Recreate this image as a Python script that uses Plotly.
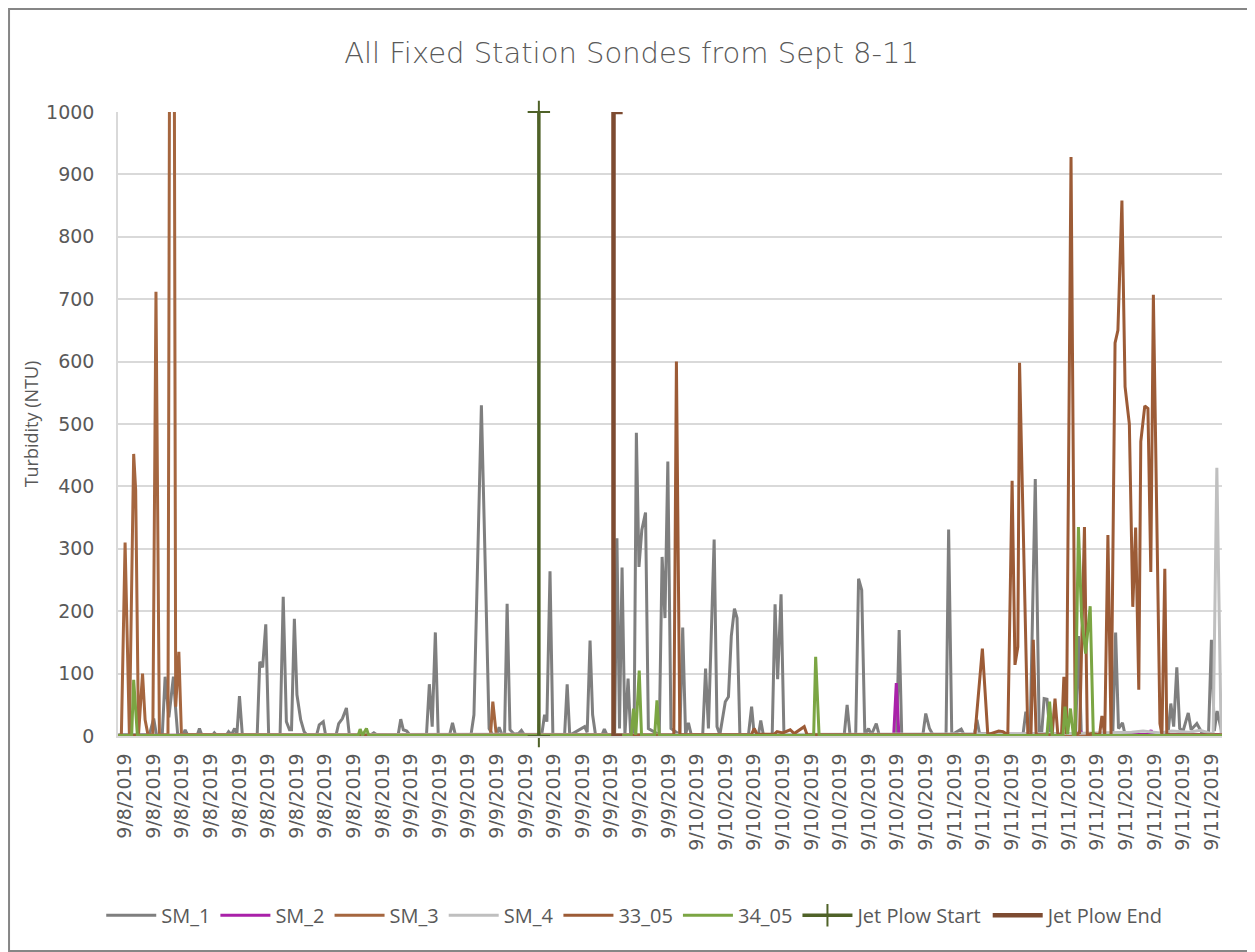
import plotly.graph_objects as go

# x = sample index along the logging period; category labels every 10 samples
tick_pos = list(range(0, 381, 10))
tick_labels = (["9/8/2019"] * 10 + ["9/9/2019"] * 10 +
               ["9/10/2019"] * 9 + ["9/11/2019"] * 10)

# (sample index, turbidity NTU)
sm1 = [(-2.4, 2), (8.5, 2), (10, 28), (11, 1), (13, 2), (14, 95), (15.3, 30), (16.9, 95),
       (17.6, 48), (18.4, 2), (20.3, 2), (21, 10), (21.8, 2), (25.3, 2), (26, 12), (26.8, 2),
       (30.5, 1), (31.2, 5), (32, 1), (35.5, 2), (36.2, 7), (37.2, 2), (38.3, 12), (39.1, 3),
       (40, 64), (41, 2), (46.2, 2), (47.1, 119), (48.1, 110), (49.2, 179), (50.2, 2),
       (54.2, 2), (55.3, 223), (56.4, 23), (57.5, 10), (58.2, 10), (59.2, 188), (60.1, 66),
       (61.4, 26), (62.6, 7), (63.5, 2), (67, 2), (67.9, 18), (69.3, 23), (70.1, 2),
       (73.8, 2), (74.7, 20), (76, 28), (77.4, 45), (78.4, 2), (86, 2), (87, 5), (88, 2),
       (95.5, 2), (96.4, 27), (97.3, 10), (98.5, 8), (99.5, 2), (105.4, 2), (106.4, 83),
       (107.4, 15), (108.5, 166), (109.5, 2), (113.5, 2), (114.5, 21), (115.5, 2),
       (121, 3), (122, 34), (124.6, 530), (127.3, 12), (128.5, 2), (130, 2), (130.8, 14),
       (131.8, 2), (132.7, 2), (133.6, 212), (134.6, 10), (136, 3), (137.6, 4), (138.6, 9),
       (139.6, 2), (145.7, 2), (146.7, 34), (147.5, 23), (148.6, 264), (149.6, 2),
       (153.7, 2), (154.6, 83), (155.5, 1), (158, 8), (159.5, 12), (160.7, 15), (161.6, 6),
       (162.6, 153), (163.5, 34), (164.5, 2), (166.8, 2), (167.6, 11), (168.5, 2),
       (171.2, 2), (172, 317), (172.9, 12), (173.8, 270), (174.8, 2), (175.9, 92),
       (176.8, 2), (178, 2), (178.8, 486), (179.7, 271), (180.7, 330), (182, 358),
       (183, 12), (186.8, 2), (187.8, 287), (188.8, 189), (189.8, 440), (190.9, 12),
       (194, 2), (195, 174), (196, 2), (197, 21), (198, 2), (202, 2), (203, 108), (204, 12),
       (206, 315), (207, 15), (208, 2), (209.9, 55), (211, 63), (212, 160), (213.1, 204),
       (214, 189), (215, 2), (218, 2), (219.1, 47), (220, 2), (221.5, 2), (222.3, 25),
       (223.2, 2), (226.3, 2), (227.3, 211), (228.2, 91), (229.4, 227), (230.4, 3),
       (251.5, 2), (252.5, 50), (253.5, 2), (255.5, 2), (256.5, 252), (257.6, 234),
       (258.7, 2), (260, 12), (261, 2), (262.7, 20), (263.7, 2), (269.8, 2), (270.7, 170),
       (271.6, 2), (279, 2), (280, 36), (281.3, 12), (282.5, 2), (287.1, 2), (288, 331),
       (289.1, 2), (292.4, 11), (293.4, 2), (297, 2), (297.9, 26), (298.8, 4), (314, 2),
       (315, 39), (316.5, 2), (318.3, 412), (319.7, 2), (320.5, 2), (321.4, 60),
       (322.4, 59), (323.5, 2), (332.4, 2), (333.4, 160), (334.4, 2), (345.4, 2),
       (346.4, 166), (347.4, 12), (348.8, 21), (349.7, 2), (364.7, 2), (365.7, 52),
       (366.7, 15), (367.8, 110), (368.8, 12), (370, 8), (371.8, 37), (372.8, 10),
       (374.8, 20), (376.5, 6), (378.9, 5), (379.9, 154), (380.9, 8), (381.9, 40),
       (383.6, 4)]

sm2 = [(-2.4, 1), (60, 2), (120, 1), (200, 2), (268.8, 2), (269.7, 85), (270.6, 2),
       (333, 3), (334, 8), (335, 2), (358, 3), (358.8, 9), (359.6, 2), (383.6, 2)]

sm3 = [(-2.4, 1), (-1.3, 1), (0, 310), (1.5, 2), (3, 452), (3.7, 394), (4.7, 2),
       (6.1, 100), (7, 26), (8, 2), (9.7, 2), (10.8, 712), (12, 2), (15, 2), (16.4, 2800),
       (17.7, 47), (18.8, 135), (19.7, 3), (60, 2), (127.8, 2), (128.6, 55), (129.8, 2),
       (383.6, 1)]

sm4 = [(-2.4, 1), (120, 3), (200, 2), (330, 4), (352, 6), (356, 8), (362, 5), (366, 8),
       (372, 6), (376, 9), (380.5, 3), (381.8, 430), (383.3, 2), (383.6, 2)]

s33_05 = [(-2.4, 1), (191.9, 2), (192.8, 600), (194, 2), (219, 2), (220, 12), (221, 3),
          (227, 3), (228, 7), (230, 5), (232.6, 10), (234, 4), (237.5, 15), (238.5, 2),
          (297.2, 2), (299.8, 140), (301.7, 2), (304, 6), (305.5, 8), (307, 7),
          (308.7, 2), (310.2, 409), (311.2, 114), (312.2, 143), (312.8, 598), (315.7, 2),
          (316.8, 2), (317.6, 154), (318.6, 2), (324.2, 2), (325.2, 60), (326.2, 2),
          (327.5, 3), (328.3, 95), (329.2, 3), (330.8, 928), (332.3, 2), (333.8, 5),
          (335.5, 335), (336.5, 2), (338, 4), (340.8, 2), (341.6, 32), (342.6, 2),
          (343.7, 322), (344.8, 2), (346.2, 630), (347.2, 650), (348.6, 858), (349.7, 560),
          (351.2, 500), (352.4, 207), (353.4, 334), (354.5, 74), (355.2, 472),
          (356.6, 529), (357.7, 525), (358.7, 263), (359.6, 707), (361.9, 20), (362.6, 2),
          (363.6, 268), (364.3, 2), (383.6, 2)]

s34_05 = [(-2.4, 1), (2.3, 1), (3, 90), (4.3, 1), (81.5, 1), (82.2, 11), (83, 1),
          (84.4, 12), (85.2, 1), (177, 1), (177.8, 44), (178.6, 2), (179.8, 105),
          (180.6, 1), (185.2, 1), (186, 57), (186.8, 1), (240.8, 1), (241.5, 127),
          (242.7, 1), (322.4, 1), (323.3, 55), (324.2, 1), (328, 1), (328.7, 47),
          (329.6, 3), (330.6, 44), (331.6, 2), (332.2, 2), (333.4, 335), (334.5, 190),
          (335.9, 132), (337.5, 208), (338.6, 1), (383.6, 1)]

jet_start_t = [144.7, 144.7]
jet_start_v = [0, 1000]
jet_end_t = [173.8, 170.8, 170.8, 174.0]
jet_end_v = [0, 0, 1000, 1000]

series = [
    ("SM_1", sm1, "#7F7F7F"),
    ("SM_2", sm2, "#A921A9"),
    ("SM_3", sm3, "#A5663F"),
    ("SM_4", sm4, "#BFBFBF"),
    ("33_05", s33_05, "#9C5B36"),
    ("34_05", s34_05, "#7BA543"),
]

fig = go.Figure()
for name, pts, color in series:
    fig.add_trace(go.Scatter(
        x=[p[0] for p in pts], y=[p[1] for p in pts], name=name, mode="lines",
        line=dict(color=color, width=3)))

fig.add_trace(go.Scatter(
    x=jet_start_t, y=jet_start_v, name="Jet Plow Start", mode="lines+markers",
    line=dict(color="#4F6228", width=3.5),
    marker=dict(symbol="cross-thin", size=16, line=dict(color="#4F6228", width=2)),
    cliponaxis=False))
fig.add_trace(go.Scatter(
    x=jet_end_t, y=jet_end_v, name="Jet Plow End", mode="lines",
    line=dict(color="#7D4B31", width=4.5)))

tick_font = dict(family="DejaVu Sans", size=19, color="#595959")

fig.update_layout(
    width=1247, height=944,
    margin=dict(l=110, r=33, t=104, b=216),
    paper_bgcolor="white", plot_bgcolor="white",
    title=dict(text="All Fixed Station Sondes from Sept 8-11",
               x=0.5, xanchor="center", y=0.953, yanchor="middle",
               font=dict(family="DejaVu Sans", size=29, color="#595959", weight=300)),
    showlegend=True,
    legend=dict(orientation="h", xref="container", yref="container",
                x=0.503, xanchor="center", y=0.039, yanchor="middle",
                font=dict(family="Liberation Sans Narrow, Open Sans", size=20,
                          color="#595959"),
                itemwidth=50, bgcolor="rgba(0,0,0,0)"),
    xaxis=dict(range=[-2.48, 383.6], tickmode="array", tickvals=tick_pos,
               ticktext=tick_labels, tickangle=-90, tickfont=tick_font,
               showgrid=False, zeroline=False, showline=True, linecolor="#D9D9D9",
               linewidth=1.5, ticks="", ticklabelstandoff=8),
    yaxis=dict(range=[0, 1000], dtick=100, tickfont=tick_font,
               showgrid=True, gridcolor="#D9D9D9", gridwidth=1.5, zeroline=False,
               showline=True, linecolor="#D9D9D9", linewidth=1.5, ticks="",
               ticklabelstandoff=18,
               title=dict(text="Turbidity (NTU)", standoff=3,
                          font=dict(family="Open Sans", size=18, color="#595959"))),
    shapes=[dict(type="rect", xref="paper", yref="paper",
                 x0=-0.0987, x1=1.0258, y0=-0.3446, y1=1.1651,
                 line=dict(color="#868686", width=2), fillcolor="rgba(0,0,0,0)",
                 layer="below")],
)

fig.write_html("out.html")
